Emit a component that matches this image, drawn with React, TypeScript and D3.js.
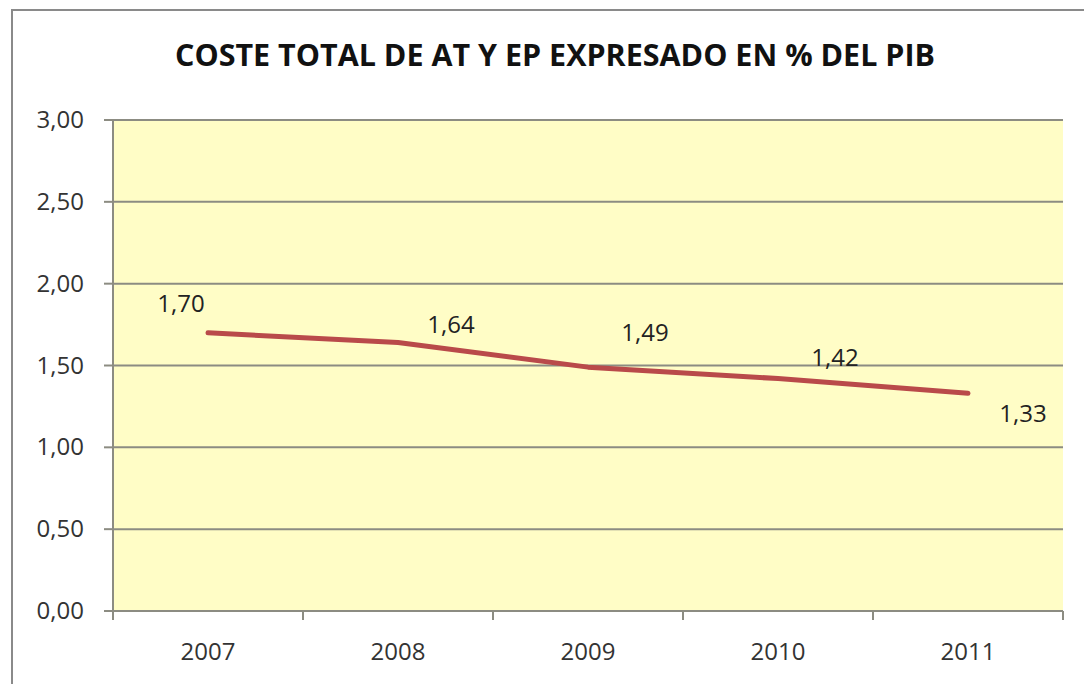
import React from "react";
import * as d3 from "d3";

const categories = ["2007", "2008", "2009", "2010", "2011"];
const values = [1.7, 1.64, 1.49, 1.42, 1.33];
const valueLabels = ["1,70", "1,64", "1,49", "1,42", "1,33"];
const yTicks = [0, 0.5, 1, 1.5, 2, 2.5, 3];
const labelOffsets: [number, number][] = [[-27, -21], [53, -10], [57, -26], [57, -13], [55, 29]];

export default function App() {
  const W = 1084, H = 684;
  const m = { left: 113, right: 1063, top: 120, bottom: 611 };
  const x = d3.scaleBand<string>().domain(categories).range([m.left, m.right]);
  const y = d3.scaleLinear().domain([0, 3]).range([m.bottom, m.top]);
  const fmt = (v: number) => v.toFixed(2).replace(".", ",");
  const line = d3.line<number>().x((_, i) => x(categories[i])! + x.bandwidth() / 2).y((d) => y(d));
  const font = "'Open Sans', 'DejaVu Sans', sans-serif";
  return (
    <svg width={W} height={H} style={{ position: "absolute", left: 0, top: 0, background: "#fff" }}>
      <rect x={12} y={10} width={1100} height={700} fill="#fff" stroke="#8a8a8a" strokeWidth={2} />
      <text x={555} y={66} textAnchor="middle" fontFamily={font} fontWeight="bold" fontSize={30} fill="#111"
        textLength={760} lengthAdjust="spacingAndGlyphs">COSTE TOTAL DE AT Y EP EXPRESADO EN % DEL PIB</text>
      <rect x={m.left} y={m.top} width={m.right - m.left} height={m.bottom - m.top} fill="#fffdc6" />
      {yTicks.map((t) => (
        <g key={t}>
          <line x1={m.left} x2={m.right} y1={y(t)} y2={y(t)} stroke="#8c8c82" strokeWidth={2} />
          <line x1={m.left - 9} x2={m.left} y1={y(t)} y2={y(t)} stroke="#8c8c82" strokeWidth={2} />
          <text x={84} y={y(t) + 8} textAnchor="end" fontFamily={font} fontSize={24} fill="#333">{fmt(t)}</text>
        </g>
      ))}
      <line x1={m.left} x2={m.left} y1={m.top} y2={m.bottom + 9} stroke="#8c8c82" strokeWidth={2} />
      {categories.map((c) => (
        <g key={c}>
          <line x1={x(c)! + x.bandwidth()} x2={x(c)! + x.bandwidth()} y1={m.bottom} y2={m.bottom + 9} stroke="#8c8c82" strokeWidth={2} />
          <text x={x(c)! + x.bandwidth() / 2} y={660} textAnchor="middle" fontFamily={font} fontSize={24} fill="#333">{c}</text>
        </g>
      ))}
      <path d={line(values) ?? ""} fill="none" stroke="#b94a4a" strokeWidth={5} strokeLinecap="round" strokeLinejoin="round" />
      {values.map((v, i) => (
        <text key={i} x={x(categories[i])! + x.bandwidth() / 2 + labelOffsets[i][0]} y={y(v) + labelOffsets[i][1]}
          textAnchor="middle" fontFamily={font} fontSize={24} fill="#222">{valueLabels[i]}</text>
      ))}
    </svg>
  );
}
